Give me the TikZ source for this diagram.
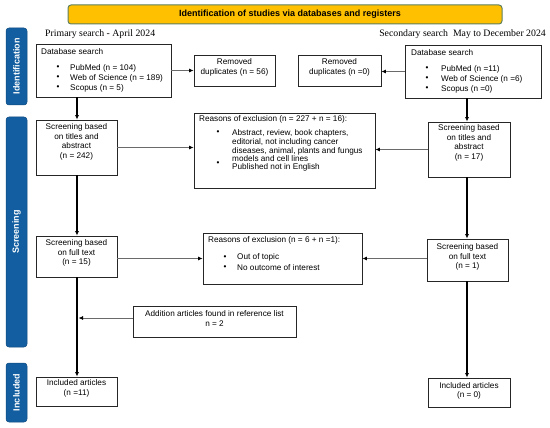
\documentclass[tikz,border=0pt]{standalone}
\usepackage{fontspec}
\setmainfont{Liberation Sans}
\newfontfamily\tnrfont{Liberation Serif}
\usetikzlibrary{arrows.meta}
\definecolor{bannerfill}{HTML}{FFC000}
\definecolor{bannerdraw}{HTML}{5E7F5E}
\definecolor{sideblue}{HTML}{135EA0}
\definecolor{sidegray}{HTML}{6A6A6A}
\tikzset{
  box/.style={draw=black!85, line width=0.8pt, fill=white, inner sep=0pt},
  txt/.style={inner sep=0pt, font=\fontsize{8.2}{9.5}\selectfont, align=center},
  ltxt/.style={inner sep=0pt, font=\fontsize{8.2}{9.5}\selectfont, anchor=west},
  tight/.style={inner sep=0pt, font=\fontsize{8.2}{7.5}\selectfont, align=left, anchor=north west},
  bul/.style={inner sep=0pt, font=\fontsize{8.2}{9.5}\selectfont},
  serif/.style={inner sep=0pt, font=\tnrfont\fontsize{9.8}{11}\selectfont},
  flow/.style={draw=black, line width=1.3pt, -{Latex[length=4.5pt,width=4pt]}},
  sidearrow/.style={draw=sidegray, line width=0.8pt, -{Latex[length=4.5pt,width=4pt,fill=black,color=black]}},
  sidebar/.style={fill=sideblue, draw=sideblue!80!black, line width=0.5pt, rounded corners=3pt, inner sep=0pt},
  sidelabel/.style={inner sep=0pt, text=white, font=\bfseries\fontsize{9}{10}\selectfont, rotate=90},
}
\begin{document}
\begin{tikzpicture}[x=1pt,y=-1pt]
\useasboundingbox (0,0) rectangle (550,428);

% banner
\node[fill=bannerfill, draw=bannerdraw, line width=1pt, rounded corners=3pt, minimum width=434pt, minimum height=19pt, inner sep=0pt] (banner) at (285,14.5) {};
\node[inner sep=0pt, font=\bfseries\fontsize{9}{10}\selectfont] (bannertext) at (290,14.5) {Identification of studies via databases and registers};

% side bars
\node[sidebar, minimum width=21pt, minimum height=77pt] (sbId) at (16.5,66.5) {};
\node[sidelabel] (sbIdT) at (sbId.center) {Identification};
\node[sidebar, minimum width=21pt, minimum height=230pt] (sbSc) at (16.5,232) {};
\node[sidelabel] (sbScT) at (sbSc.center) {Screening};
\node[sidebar, minimum width=21pt, minimum height=59pt] (sbIn) at (16.5,392.5) {};
\node[sidelabel] (sbInT) at (sbIn.center) {Included};

% headings
\node[serif, anchor=west] (primary) at (45,34) {Primary search - April 2024};
\node[serif, anchor=east] (secondary) at (546,34) {Secondary search\ \ May to December 2024};

% left database box
\node[box, minimum width=135pt, minimum height=53pt] (dbL) at (103.5,70.5) {};
\node[ltxt] (dbLt) at (41,52) {Database search};
\node[bul] (dbLb1) at (58,68) {•};
\node[bul] (dbLb2) at (58,78) {•};
\node[bul] (dbLb3) at (58,88) {•};
\node[ltxt] (dbLi1) at (70,68) {PubMed (n = 104)};
\node[ltxt] (dbLi2) at (70,78) {Web of Science (n = 189)};
\node[ltxt] (dbLi3) at (70,88) {Scopus (n = 5)};

% removed duplicates left
\node[box, minimum width=81pt, minimum height=31pt] (remL) at (234.5,70.5) {};
\node[txt] (remLt) at (234.5,67.5) {Removed\\duplicates (n = 56)};

% removed duplicates right
\node[box, minimum width=83pt, minimum height=31pt] (remR) at (339.5,70.5) {};
\node[txt] (remRt) at (339.5,67.5) {Removed\\duplicates (n =0)};

% right database box
\node[box, minimum width=136pt, minimum height=53pt] (dbR) at (473,71.5) {};
\node[ltxt] (dbRt) at (411,53) {Database search};
\node[bul] (dbRb1) at (427,69) {•};
\node[bul] (dbRb2) at (427,79) {•};
\node[bul] (dbRb3) at (427,89) {•};
\node[ltxt] (dbRi1) at (441,69) {PubMed (n =11)};
\node[ltxt] (dbRi2) at (441,79) {Web of Science (n =6)};
\node[ltxt] (dbRi3) at (441,89) {Scopus (n =0)};

% screening titles/abstract
\node[box, minimum width=81pt, minimum height=55pt] (scrL) at (76.5,147.5) {};
\node[txt] (scrLt) at (76.5,142) {Screening based\\on titles and\\abstract\\(n = 242)};
\node[box, minimum width=82pt, minimum height=55pt] (scrR) at (469,149.5) {};
\node[txt] (scrRt) at (469,143) {Screening based\\on titles and\\abstract\\(n = 17)};

% reasons 1
\node[box, minimum width=181pt, minimum height=75pt] (rs1) at (284.5,150.5) {};
\node[ltxt] (rs1t) at (199,119) {Reasons of exclusion (n = 227 + n = 16):};
\node[bul] (rs1b1) at (218,133) {•};
\node[bul] (rs1b2) at (218,163.3) {•};
\node[tight] (rs1i1) at (232,129.6) {Abstract, review, book chapters,\\editorial, not including cancer\\diseases, animal, plants and fungus\\models and cell lines\\Published not in English};

% full text
\node[box, minimum width=81pt, minimum height=41pt] (ftL) at (76.5,256.5) {};
\node[txt] (ftLt) at (76.5,253) {Screening based\\on full text\\(n = 15)};
\node[box, minimum width=81pt, minimum height=42pt] (ftR) at (467.5,260) {};
\node[txt] (ftRt) at (467.5,257) {Screening based\\on full text\\(n = 1)};

% reasons 2
\node[box, minimum width=159pt, minimum height=51pt] (rs2) at (282.5,258.5) {};
\node[ltxt] (rs2t) at (208,240) {Reasons of exclusion (n = 6 + n =1):};
\node[bul] (rs2b1) at (225,257.5) {•};
\node[bul] (rs2b2) at (225,267.5) {•};
\node[ltxt] (rs2i1) at (237,257.5) {Out of topic};
\node[ltxt] (rs2i2) at (237,267.5) {No outcome of interest};

% additional articles
\node[box, minimum width=163pt, minimum height=31pt] (add) at (214.5,321.5) {};
\node[txt] (addt) at (214.5,318.5) {Addition articles found in reference list\\n = 2};

% included
\node[box, minimum width=81pt, minimum height=29pt] (incL) at (76.5,391.5) {};
\node[txt] (incLt) at (76.5,388.5) {Included articles\\(n =11)};
\node[box, minimum width=82pt, minimum height=29pt] (incR) at (469,392.5) {};
\node[txt] (incRt) at (469,391) {Included articles\\(n = 0)};

% main flow
\draw[flow] (dbL.south -| 77,0) -- (scrL.north -| 77,0);
\draw[flow] (scrL.south -| 77,0) -- (ftL.north -| 77,0);
\draw[flow] (ftL.south -| 77,0) -- (incL.north -| 77,0);
\draw[flow] (dbR.south -| 467,0) -- (scrR.north -| 467,0);
\draw[flow] (scrR.south -| 467,0) -- (ftR.north -| 467,0);
\draw[flow] (ftR.south -| 467,0) -- (incR.north -| 467,0);

% side arrows
\draw[sidearrow] (dbL.east) -- (remL.west);
\draw[sidearrow] (dbR.west) -- (dbR.west -| remR.east);
\draw[sidearrow] (scrL.east) -- (scrL.east -| rs1.west);
\draw[sidearrow] (scrR.west) -- (scrR.west -| rs1.east);
\draw[sidearrow] (ftL.east |- rs2.west) -- (rs2.west);
\draw[sidearrow] (ftR.west |- rs2.east) -- (rs2.east);
\draw[sidearrow, shorten >=1.5pt] ([yshift=3.5pt]add.west) -- ([yshift=3.5pt]add.west -| 77,0);
\end{tikzpicture}
\end{document}
